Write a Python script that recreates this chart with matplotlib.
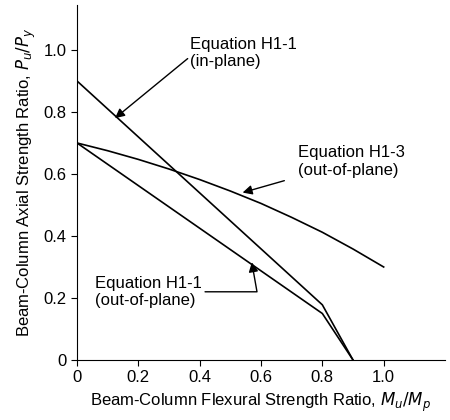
import matplotlib
matplotlib.use("Agg")
import matplotlib.pyplot as plt

plt.rcParams['font.family'] = ['Liberation Sans', 'DejaVu Sans']

inplane_x = [0, 0.8, 0.9]
inplane_y = [0.9, 0.178, 0]
outplane_x = [0, 0.8, 0.9]
outplane_y = [0.7, 0.15, 0]
h13_x = [0, 0.1, 0.2, 0.3, 0.4, 0.5, 0.6, 0.7, 0.8, 0.9, 1.0]
h13_y = [0.7, 0.675, 0.647, 0.616, 0.582, 0.545, 0.505, 0.46, 0.412, 0.358, 0.3]
ticks = [0, 0.2, 0.4, 0.6, 0.8, 1.0]
tick_labels = ['0', '0.2', '0.4', '0.6', '0.8', '1.0']

fig = plt.figure(figsize=(4.5, 4.2), dpi=100)
ax = fig.add_axes([77/450, 60/420, 368/450, 355/420])
for x, y in [(inplane_x, inplane_y), (outplane_x, outplane_y), (h13_x, h13_y)]:
    ax.plot(x, y, color='black', lw=1.2)
ax.set_xlim(0, 1.2)
ax.set_ylim(0, 1.145)
ax.set_xticks(ticks, tick_labels)
ax.set_yticks(ticks, tick_labels)
ax.spines['top'].set_visible(False)
ax.spines['right'].set_visible(False)
ax.tick_params(labelsize=12, length=4)
ax.set_xlabel('Beam-Column Flexural Strength Ratio, $M_u/M_p$', fontsize=12)
ax.set_ylabel('Beam-Column Axial Strength Ratio, $P_u/P_y$', fontsize=12)

ap = dict(arrowstyle='-|>', color='black', lw=1.0, mutation_scale=14)
ax.annotate('Equation H1-1\n(in-plane)', xy=(0.124, 0.78), xytext=(0.37, 0.99),
            fontsize=12, ha='left', va='center',
            arrowprops=dict(ap, shrinkA=0, shrinkB=0, relpos=(0, 0.4)))
ax.annotate('Equation H1-3\n(out-of-plane)', xy=(0.54, 0.54), xytext=(0.72, 0.64),
            fontsize=12, ha='left', va='center', arrowprops=dict(ap, shrinkA=8, shrinkB=0))
ax.annotate('Equation H1-1\n(out-of-plane)', xy=(0.57, 0.315), xytext=(0.06, 0.22),
            fontsize=12, ha='left', va='center',
            arrowprops=dict(ap, shrinkA=0, shrinkB=0,
                            connectionstyle='angle,angleA=0,angleB=100,rad=0', relpos=(1, 0.5)))
fig.savefig('out.png', dpi=100)
